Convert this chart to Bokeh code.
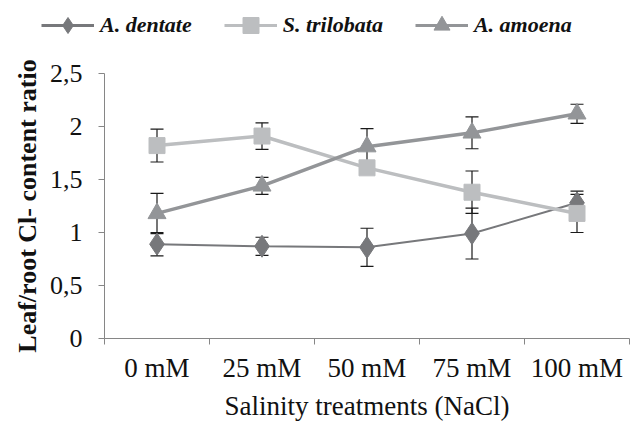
from bokeh.plotting import figure
from bokeh.models import (Range1d, FixedTicker, Whisker, TeeHead, ColumnDataSource,
                          Legend, LegendItem)
from bokeh.embed import file_html
from bokeh.resources import INLINE

categories = ["0 mM", "25 mM", "50 mM", "75 mM", "100 mM"]
dentate = [0.89, 0.87, 0.86, 0.99, 1.28]
dentate_err = [0.11, 0.085, 0.18, 0.24, 0.11]
trilobata = [1.82, 1.91, 1.61, 1.38, 1.18]
trilobata_err = [0.155, 0.125, 0.05, 0.20, 0.18]
amoena = [1.18, 1.44, 1.81, 1.94, 2.12]
amoena_err = [0.19, 0.08, 0.17, 0.15, 0.09]
y_ticks = [0, 0.5, 1, 1.5, 2, 2.5]
y_tick_labels = ["0", "0,5", "1", "1,5", "2", "2,5"]

xs = [i + 0.5 for i in range(len(categories))]
FONT = "Liberation Serif"
AXIS_GRAY = "#868686"
TXT = "#111111"
LEG_H = 48

p = figure(width=630, height=423 - LEG_H, output_backend="svg", toolbar_location=None,
           x_range=Range1d(0, len(categories)), y_range=Range1d(0, 2.5),
           min_border_left=104, min_border_right=1, min_border_top=73 - LEG_H,
           min_border_bottom=83)
p.outline_line_color = None
p.grid.grid_line_color = None

# small strip above the chart that only carries the legend
lg = figure(width=630, height=LEG_H, output_backend="svg", toolbar_location=None,
            x_range=Range1d(100, 101), y_range=Range1d(100, 101),
            x_axis_type=None, y_axis_type=None,
            min_border_left=0, min_border_right=0, min_border_top=0, min_border_bottom=0)
lg.outline_line_color = None
lg.grid.grid_line_color = None

series = [
    ("A. dentate", dentate, dentate_err, "#77787b", 2, "diamond", 22),
    ("S. trilobata", trilobata, trilobata_err, "#bcbec0", 3.5, "square", 16),
    ("A. amoena", amoena, amoena_err, "#939598", 3.5, "triangle", 18),
]

items = []
for name, vals, errs, col, lw, mk, sz in series:
    src = ColumnDataSource(dict(x=xs, y=vals,
                                lo=[v - e for v, e in zip(vals, errs)],
                                hi=[v + e for v, e in zip(vals, errs)]))
    p.line("x", "y", source=src, line_color=col, line_width=lw, level="underlay")
    w = Whisker(base="x", lower="lo", upper="hi", source=src, level="underlay",
                line_color="#1a1a1a", line_width=1.2,
                upper_head=TeeHead(size=13, line_color="#1a1a1a", line_width=1.2),
                lower_head=TeeHead(size=13, line_color="#1a1a1a", line_width=1.2))
    p.add_layout(w)
    p.scatter("x", "y", source=src, marker=mk, size=sz, fill_color=col, line_color=col)
    # same series in the legend strip (outside its visible range), used for the legend key
    lr = lg.line("x", "y", source=src, line_color=col, line_width=3)
    mr = lg.scatter("x", "y", source=src, marker=mk, size=sz, fill_color=col, line_color=col)
    items.append(LegendItem(label=name, renderers=[lr, mr]))

legend = Legend(items=items, orientation="horizontal", location=(41, 3),
                label_text_font=FONT, label_text_font_style="bold italic",
                label_text_font_size="22px", label_text_color=TXT,
                glyph_width=53, glyph_height=40, spacing=32, padding=2, margin=0,
                background_fill_alpha=0, border_line_color=None, label_standoff=6)
lg.add_layout(legend, "center")

ax = p.xaxis[0]
ax.ticker = FixedTicker(ticks=xs, minor_ticks=list(range(len(categories) + 1)))
ax.major_label_overrides = {x: c for x, c in zip(xs, categories)}
ax.major_tick_line_color = None
ax.major_tick_out = 6
ax.minor_tick_line_color = AXIS_GRAY
ax.minor_tick_out = 6
ax.minor_tick_in = 0
ax.axis_line_color = AXIS_GRAY
ax.major_label_text_font = FONT
ax.major_label_text_font_size = "27px"
ax.major_label_text_color = TXT
ax.major_label_standoff = 8
ax.axis_label = "Salinity treatments (NaCl)"
ax.axis_label_text_font = FONT
ax.axis_label_text_font_size = "27px"
ax.axis_label_text_font_style = "normal"
ax.axis_label_text_color = TXT
ax.axis_label_standoff = 5

ay = p.yaxis[0]
ay.ticker = FixedTicker(ticks=y_ticks)
ay.major_label_overrides = {t: l for t, l in zip(y_ticks, y_tick_labels)}
ay.major_tick_line_color = AXIS_GRAY
ay.major_tick_out = 6
ay.major_tick_in = 0
ay.minor_tick_line_color = None
ay.axis_line_color = AXIS_GRAY
ay.major_label_text_font = FONT
ay.major_label_text_font_size = "26px"
ay.major_label_text_color = TXT
ay.major_label_standoff = 16
ay.axis_label = "Leaf/root Cl- content ratio"
ay.axis_label_text_font = FONT
ay.axis_label_text_font_size = "26px"
ay.axis_label_text_font_style = "bold"
ay.axis_label_text_color = TXT
ay.axis_label_standoff = 5

open("out.html", "w").write(file_html([lg, p], INLINE))
